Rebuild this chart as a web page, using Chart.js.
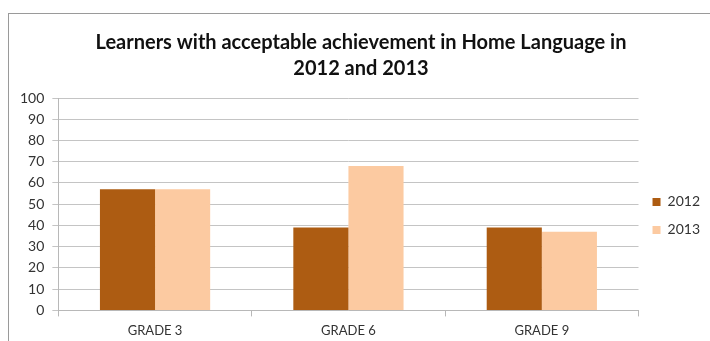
<!DOCTYPE html>
<html>
<head>
<meta charset="utf-8">
<script src="https://cdn.jsdelivr.net/npm/chart.js@4"></script>
<style>
  html, body { margin: 0; padding: 0; background: #fff; overflow: hidden; }
  #frame {
    position: absolute; left: 8px; top: 13px; width: 760px; height: 400px;
    border: 1px solid #9a9a9a; box-sizing: border-box;
  }
  #wrap { position: absolute; left: 0; top: 0; width: 710px; height: 346px; }
</style>
</head>
<body>
<div id="frame"></div>
<div id="wrap"><canvas id="chart"></canvas></div>
<script>
// 各年级数据
const grades = ['GRADE 3', 'GRADE 6', 'GRADE 9'];
const values2012 = [57, 39, 39];
const values2013 = [57, 68, 37];

const FONT = 'Lato, "Open Sans", sans-serif';

new Chart(document.getElementById('chart'), {
  type: 'bar',
  data: {
    labels: grades,
    datasets: [
      { label: '2012', data: values2012, backgroundColor: '#ad5c12' },
      { label: '2013', data: values2013, backgroundColor: '#fccaa1' }
    ]
  },
  options: {
    responsive: true,
    maintainAspectRatio: false,
    animation: false,
    datasets: { bar: { categoryPercentage: 0.57, barPercentage: 1 } },
    layout: { padding: { left: 12, right: 0, top: 0, bottom: 0 } },
    scales: {
      x: {
        grid: { drawOnChartArea: false, color: '#b8b8b8', tickLength: 6 },
        border: { color: '#b8b8b8' },
        ticks: { color: '#333', font: { family: FONT, size: 13 }, padding: 7 }
      },
      y: {
        min: 0,
        max: 100,
        grid: { color: '#c4c4c4', tickLength: 6 },
        border: { color: '#b8b8b8' },
        ticks: { stepSize: 10, color: '#333', font: { family: FONT, size: 14 }, padding: 8 }
      }
    },
    plugins: {
      title: {
        display: true,
        text: ['Learners with acceptable achievement in Home Language in', '2012 and 2013'],
        color: '#111',
        font: { family: FONT, size: 20, weight: 'bold', lineHeight: 1.3 },
        padding: { top: 30, bottom: 16 }
      },
      legend: {
        position: 'right',
        fullSize: false,
        // 空标题仅用于把图例整体下移
        title: { display: true, text: '', padding: { top: 0, bottom: 9 } },
        labels: {
          boxWidth: 8,
          boxHeight: 8,
          padding: 14,
          color: '#333',
          font: { family: FONT, size: 14 }
        }
      },
      tooltip: { enabled: false }
    }
  }
});
</script>
</body>
</html>
